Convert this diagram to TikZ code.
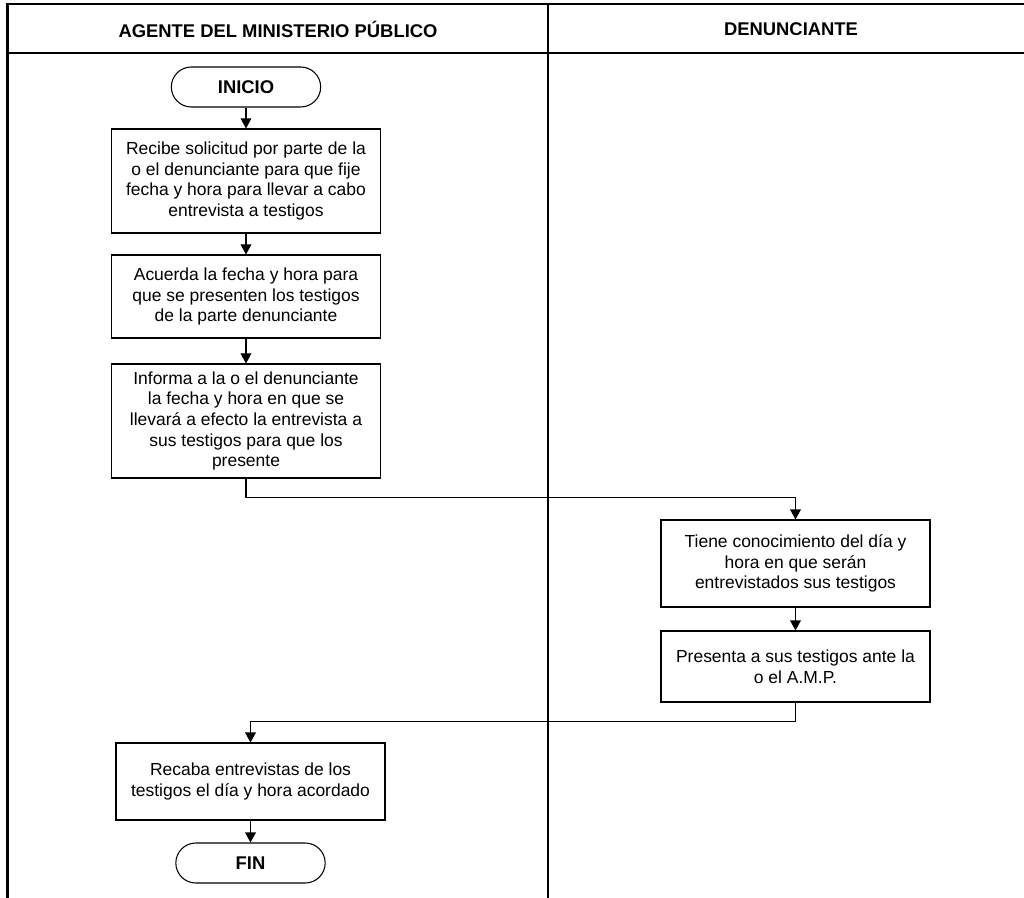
\documentclass[tikz,border=0pt]{standalone}
\usepackage{fontspec}
\setmainfont{Liberation Sans}
\usetikzlibrary{arrows.meta}
\tikzset{
  paso/.style={draw, line width=0.8pt, minimum width=201.75pt, align=center, inner sep=0pt, font=\fontsize{13.1}{15.4}\selectfont},
  terminal/.style={draw, line width=0.8pt, rounded corners=15pt, minimum width=112pt, minimum height=30pt, inner sep=0pt, font=\fontsize{13.8}{16}\selectfont\bfseries},
  flecha/.style={line width=0.8pt, -{Triangle[length=7.5pt,width=8pt]}},
  marco/.style={line width=1.7pt},
  titulo/.style={font=\fontsize{13.8}{16}\selectfont\bfseries}
}
\begin{document}
\begin{tikzpicture}[x=0.75pt,y=-0.75pt]
\useasboundingbox (0,0) rectangle (1024,898);
\clip (0,0) rectangle (1024,898);
\draw[marco] (7.5,898) -- (7.5,4) -- (1040,4);
\draw[marco] (7.5,53) -- (1040,53);
\draw[line width=1.5pt] (548,4) -- (548,898);
\node[titulo] (carril1) at (278,29) {AGENTE DEL MINISTERIO PÚBLICO};
\node[titulo] (carril2) at (791,29) {DENUNCIANTE};

\node[terminal] (inicio) at (246,87) {INICIO};
\node[paso, minimum height=78pt] (recibe) at (246,181) {Recibe solicitud por parte de la\\o el denunciante para que fije\\fecha y hora para llevar a cabo\\entrevista a testigos};
\node[paso, minimum height=62.25pt] (acuerda) at (246,296.5) {Acuerda la fecha y hora para\\que se presenten los testigos\\de la parte denunciante};
\node[paso, minimum height=85.5pt] (informa) at (246,421) {Informa a la o el denunciante\\la fecha y hora en que se\\llevará a efecto la entrevista a\\sus testigos para que los\\presente};
\node[paso, minimum height=65.25pt] (conoce) at (795.5,563.5) {Tiene conocimiento del día y\\hora en que serán\\entrevistados sus testigos};
\node[paso, minimum height=53.25pt] (presenta) at (795.5,666.5) {Presenta a sus testigos ante la\\o el A.M.P.};
\node[paso, minimum height=57.75pt] (recaba) at (250.5,781.5) {Recaba entrevistas de los\\testigos el día y hora acordado};
\node[terminal] (fin) at (250.5,863) {FIN};

\draw[flecha] (inicio) -- (recibe);
\draw[flecha] (recibe) -- (acuerda);
\draw[flecha] (acuerda) -- (informa);
\draw[flecha] (informa.south) -- ++(0,19) -| (conoce.north);
\draw[flecha] (conoce) -- (presenta);
\draw[flecha] (presenta.south) -- ++(0,19) -| (recaba.north);
\draw[flecha] (recaba) -- (fin);
\end{tikzpicture}
\end{document}
